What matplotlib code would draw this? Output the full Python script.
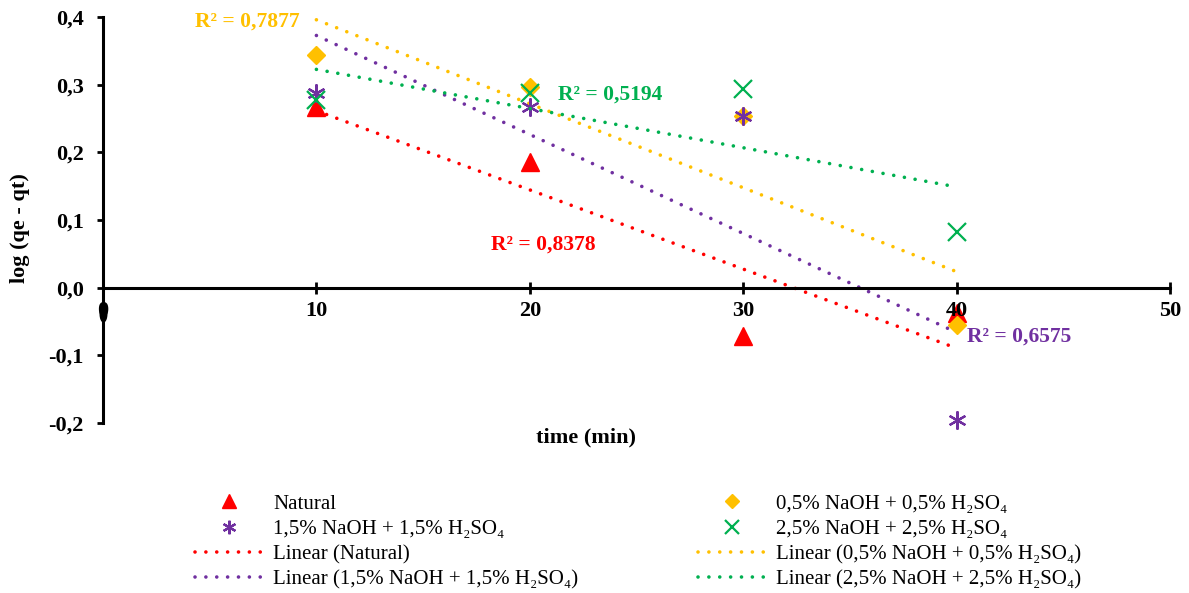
import numpy as np
import matplotlib
matplotlib.use("Agg")
import matplotlib.pyplot as plt
from matplotlib.ticker import FixedLocator

plt.rcParams['font.family'] = ['Liberation Serif', 'DejaVu Serif']

# data
time_min = [10, 20, 30, 40]
natural = [0.267, 0.186, -0.072, -0.037]
naoh_05 = [0.344, 0.297, 0.253, -0.055]
naoh_15 = [0.288, 0.267, 0.253, -0.195]
naoh_25 = [0.278, 0.288, 0.294, 0.083]
r2_labels = ['R² = 0,8378', 'R² = 0,7877', 'R² = 0,6575', 'R² = 0,5194']
stray_x = [0]
stray_y = [-0.037]

x_ticks = [0, 10, 20, 30, 40, 50]
y_ticks = [-0.2, -0.1, 0.0, 0.1, 0.2, 0.3, 0.4]
y_ticklabels = ['-0,2', '-0,1', '0,0', '0,1', '0,2', '0,3', '0,4']

names = ['Natural', '0,5% NaOH + 0,5% H₂SO₄', '1,5% NaOH + 1,5% H₂SO₄', '2,5% NaOH + 2,5% H₂SO₄']
colors = ['#FF0000', '#FFC000', '#7030A0', '#00B050']
markers = ['^', 'D', (6, 2, 0), 'x']
msizes = [13, 9.5, 13, 12.5]
# where the R² texts sit (data coords)
r2_pos = [(18.2, 0.063), (4.3, 0.393), (40.5, -0.072), (21.3, 0.285)]

fig = plt.figure(figsize=(11.89, 5.93), dpi=100)
ax = fig.add_axes([103/1189, 1-423/593, (1170-103)/1189, (423-17)/593])

series = [natural, naoh_05, naoh_15, naoh_25]
pts = []
fits = []
x = np.array(time_min)
for i, y in enumerate(series):
    if markers[i] == 'x' or markers[i] == (6, 2, 0):
        h, = ax.plot(time_min, y, linestyle='none', marker=markers[i], ms=msizes[i],
                     color=colors[i], mew=1.6, label=names[i], clip_on=False)
    else:
        h, = ax.plot(time_min, y, linestyle='none', marker=markers[i], ms=msizes[i],
                     color=colors[i], mec=colors[i], label=names[i], clip_on=False)
    pts.append(h)
    k, b = np.polyfit(x, np.array(y), 1)
    f, = ax.plot(x[[0, -1]], k*x[[0, -1]] + b, color=colors[i], lw=2.6,
                 linestyle=(0, (0.01, 3.0)), dash_capstyle='round',
                 label='Linear (' + names[i] + ')')
    fits.append(f)
    tx, ty = r2_pos[i]
    ax.text(tx, ty, r2_labels[i], color=colors[i], fontsize=15.5, fontweight='bold',
            family='Liberation Serif', va='center', ha='left')

t = np.linspace(0, 2*np.pi, 40)
ellipse = list(zip(0.4*np.cos(t), np.sin(t)))
ax.plot(stray_x, stray_y, linestyle='none', marker=ellipse, ms=12, color='black',
        clip_on=False)

ax.set_xlim(0, 50)
ax.set_ylim(-0.2, 0.4)
ax.spines['top'].set_visible(False)
ax.spines['right'].set_visible(False)
ax.spines['bottom'].set_position(('data', 0))
ax.spines['bottom'].set_linewidth(2.2)
ax.spines['left'].set_linewidth(2.2)
ax.xaxis.set_major_locator(FixedLocator(x_ticks))
ax.yaxis.set_major_locator(FixedLocator(y_ticks))
ax.set_yticklabels(y_ticklabels)
ax.tick_params(axis='x', direction='inout', length=9, width=2, pad=5, labelsize=16)
ax.tick_params(axis='y', direction='out', length=4, width=2, pad=10, labelsize=16)
ax.xaxis.set_zorder(5)
for lab in ax.get_xticklabels() + ax.get_yticklabels():
    lab.set_fontweight('bold')
    lab.set_family('Liberation Serif')

fig.text(586/1189, 1-437/593, 'time (min)', fontsize=16, fontweight='bold',
         ha='center', va='center')
fig.text(20/1189, 1-228/593, 'log (qe - qt)', fontsize=16, fontweight='bold',
         ha='center', va='center', rotation=90)

leg_kw = dict(frameon=False, fontsize=15, handlelength=3.3, handletextpad=0.45,
              labelspacing=0.27, borderpad=0, borderaxespad=0, loc='upper left',
              markerscale=0.75)
fig.legend([pts[0], pts[2], fits[0], fits[2]],
           [names[0], names[2], 'Linear (' + names[0] + ')', 'Linear (' + names[2] + ')'],
           bbox_to_anchor=(195/1189, 1-494/593), **leg_kw)
fig.legend([pts[1], pts[3], fits[1], fits[3]],
           [names[1], names[3], 'Linear (' + names[1] + ')', 'Linear (' + names[3] + ')'],
           bbox_to_anchor=(698/1189, 1-494/593), **leg_kw)

fig.savefig('out.png', dpi=100)
